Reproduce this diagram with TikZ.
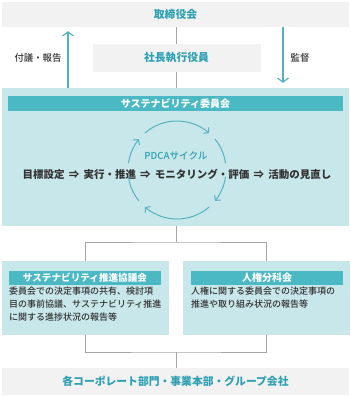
\documentclass[tikz,border=0pt]{standalone}
\usepackage{fontspec}
\setmainfont{Noto Sans CJK JP}
\newfontfamily\jpmed{Noto Sans CJK JP Medium}
\usetikzlibrary{arrows.meta,bending,backgrounds}
\definecolor{tealdark}{HTML}{4BB9C4}
\definecolor{teallight}{HTML}{C8E7EB}
\definecolor{boxgray}{HTML}{F2F2F2}
\definecolor{tealtext}{HTML}{2FA0B2}
\definecolor{linegray}{HTML}{A6A6A6}
\definecolor{textdark}{HTML}{333333}
\definecolor{arrowteal}{HTML}{55B3C0}
\newcommand{\imp}{\hspace{4.2pt}⇒\hspace{4.2pt}}
\begin{document}
\begin{tikzpicture}[x=1pt,y=1pt,
  graybox/.style={fill=boxgray,draw=none,inner sep=0,text=tealtext,font=\fontsize{10.8}{12}\selectfont\bfseries},
  lightbox/.style={fill=teallight,draw=none,inner sep=0},
  headbar/.style={fill=tealdark,draw=none,inner sep=0,text=white,font=\fontsize{10}{12}\selectfont\bfseries},
  bodytext/.style={inner sep=0,text=textdark,align=left,font=\jpmed\fontsize{9}{13}\selectfont},
  lbl/.style={inner sep=0,text=textdark,font=\jpmed\fontsize{9.4}{11}\selectfont},
  grayline/.style={draw=linegray,line width=0.8pt},
  vtarrow/.style={draw=arrowteal,line width=1.2pt,-{Straight Barb[length=4pt,width=11pt,line width=1.2pt]}},
  cyc/.style={draw=arrowteal,line width=1pt},
  cyca/.style={cyc,-{Straight Barb[length=3.5pt,width=8pt,line width=1pt]}}
]
\useasboundingbox (0,0) rectangle (351,-397);
% boxes
\node[graybox,minimum width=347pt,minimum height=25pt] (board) at (175.5,-14.5) {取締役会};
\node[lightbox,minimum width=347pt,minimum height=138pt] (comm) at (175.5,-157) {};
\node[graybox,minimum width=168pt,minimum height=28pt] (pres) at (176.5,-58) {社長執行役員};
\node[headbar,minimum width=335pt,minimum height=15pt] (commhead) at (175.5,-103.5) {サステナビリティ委員会};
\node[lightbox,minimum width=167pt,minimum height=74pt] (lbox) at (85.5,-298) {};
\node[headbar,minimum width=152pt,minimum height=14pt,font=\fontsize{9.6}{12}\selectfont\bfseries] (lhead) at (85,-278) {サステナビリティ推進協議会};
\node[lightbox,minimum width=167pt,minimum height=74pt] (rbox) at (266.5,-298) {};
\node[headbar,minimum width=152pt,minimum height=14pt] (rhead) at (267,-278) {人権分科会};
\node[graybox,minimum width=347pt,minimum height=27pt] (bottom) at (175.5,-381.5) {各コーポレート部門・事業本部・グループ会社};
% texts
\node[bodytext,anchor=north west] (ltext) at (9,-287) {委員会での決定事項の共有、検討項\\目の事前協議、サステナビリティ推進\\に関する進捗状況の報告等};
\node[bodytext,anchor=north west] (rtext) at (191,-287) {人権に関する委員会での決定事項の\\推進や取り組み状況の報告等};
\node[lbl] (lblup) at (38,-58) {付議・報告};
\node[lbl] (lbldown) at (300,-58) {監督};
\node[inner sep=0,text=textdark,font=\fontsize{10.5}{12}\selectfont\bfseries] (flow) at (177,-174) {目標設定\imp 実行・推進\imp モニタリング・評価\imp 活動の見直し};
\node[inner sep=0,text=tealtext,font=\jpmed\fontsize{9.6}{11}\selectfont] (pdca) at (176,-156) {PDCAサイクル};
% PDCA cycle
\coordinate (C) at (177,-170);
\draw[cyca] ([shift={(172:49)}]C) arc[start angle=172,end angle=141,radius=49];
\draw[cyca] ([shift={(131:49)}]C) arc[start angle=131,end angle=49,radius=49];
\draw[cyc]  ([shift={(39:49)}]C) arc[start angle=39,end angle=8,radius=49];
\draw[cyca] ([shift={(-8:49)}]C) arc[start angle=-8,end angle=-39,radius=49];
\draw[cyca] ([shift={(-49:49)}]C) arc[start angle=-49,end angle=-131,radius=49];
\draw[cyc]  ([shift={(-141:49)}]C) arc[start angle=-141,end angle=-172,radius=49];
% vertical arrows
\coordinate (ux) at (68,0);
\coordinate (dx) at (283,0);
\draw[vtarrow] (ux |- comm.north) -- ([yshift=-4pt]ux |- board.south);
\draw[vtarrow] (dx |- board.south) -- ([yshift=5pt]dx |- comm.north);
% gray connectors
\coordinate (br1) at (176.5,-242);
\coordinate (br2) at (176.5,-352);
\begin{scope}[on background layer]
\draw[grayline] (board.south -| pres) -- (comm.north -| pres);
\end{scope}
\draw[grayline] (comm.south -| br1) -- (br1);
\draw[grayline] (lbox.north) |- (br1) -| (rbox.north);
\draw[grayline] (lbox.south) |- (br2) -| (rbox.south);
\draw[grayline] (br2) -- (bottom.north -| br2);
\end{tikzpicture}
\end{document}
